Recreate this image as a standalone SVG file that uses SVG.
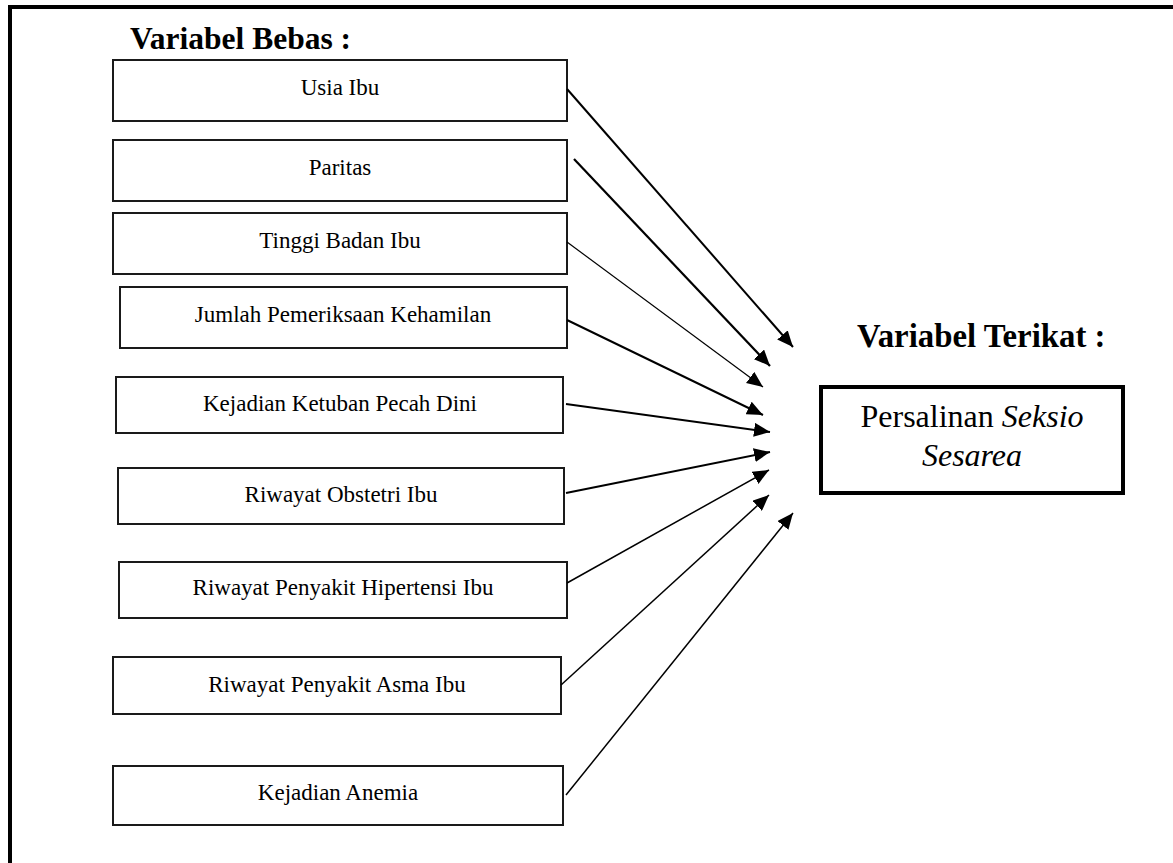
<svg xmlns="http://www.w3.org/2000/svg" width="1173" height="863" viewBox="0 0 1173 863">
<style>
.box{fill:#fff;stroke:#1a1a1a;stroke-width:2}
.lbl{font-family:"Liberation Serif","Times New Roman",serif;font-size:23px;fill:#000;text-anchor:middle}
.ttl{font-family:"Liberation Serif","Times New Roman",serif;font-weight:bold;fill:#000}
.big{font-family:"Liberation Serif","Times New Roman",serif;font-size:32px;fill:#000;text-anchor:middle}
.con{stroke:#000;fill:none;marker-end:url(#ah)}
</style>
<defs>
<marker id="ah" viewBox="0 0 16 14" refX="16" refY="7" markerWidth="16" markerHeight="14" markerUnits="userSpaceOnUse" orient="auto">
<path d="M0,0 L16,7 L0,14 z" fill="#000"/>
</marker>
</defs>
<rect x="0" y="0" width="1173" height="863" fill="#fff"/>
<rect x="10" y="7" width="1200" height="900" fill="none" stroke="#000" stroke-width="4"/>
<text class="ttl" x="130" y="49" font-size="31.5">Variabel Bebas :</text>
<text class="ttl" x="857" y="347" font-size="32.8">Variabel Terikat :</text>
<g id="n1"><rect class="box" x="113" y="60" width="454" height="61"/><text class="lbl" x="340" y="95">Usia Ibu</text></g>
<g id="n2"><rect class="box" x="113" y="140" width="454" height="61"/><text class="lbl" x="340" y="175">Paritas</text></g>
<g id="n3"><rect class="box" x="113" y="213" width="454" height="61"/><text class="lbl" x="340" y="248">Tinggi Badan Ibu</text></g>
<g id="n4"><rect class="box" x="120" y="287" width="447" height="61"/><text class="lbl" x="343" y="322">Jumlah Pemeriksaan Kehamilan</text></g>
<g id="n5"><rect class="box" x="116" y="377" width="447" height="56"/><text class="lbl" x="340" y="411">Kejadian Ketuban Pecah Dini</text></g>
<g id="n6"><rect class="box" x="118" y="468" width="446" height="56"/><text class="lbl" x="341" y="502">Riwayat Obstetri Ibu</text></g>
<g id="n7"><rect class="box" x="119" y="562" width="448" height="56"/><text class="lbl" x="343" y="595">Riwayat Penyakit Hipertensi Ibu</text></g>
<g id="n8"><rect class="box" x="113" y="657" width="448" height="57"/><text class="lbl" x="337" y="692">Riwayat Penyakit Asma Ibu</text></g>
<g id="n9"><rect class="box" x="113" y="766" width="450" height="59"/><text class="lbl" x="338" y="800">Kejadian Anemia</text></g>
<g id="target"><rect x="821" y="387" width="302" height="106" fill="#fff" stroke="#000" stroke-width="4"/>
<text class="big" x="972" y="427">Persalinan <tspan font-style="italic">Seksio</tspan></text>
<text class="big" x="972" y="466" font-style="italic">Sesarea</text></g>
<g id="connectors">
<line class="con" x1="567" y1="89" x2="793" y2="347" stroke-width="2"/>
<line class="con" x1="574" y1="159" x2="770" y2="366" stroke-width="2.2"/>
<line class="con" x1="567" y1="242" x2="763" y2="387" stroke-width="1.2"/>
<line class="con" x1="567" y1="320" x2="763" y2="415" stroke-width="2"/>
<line class="con" x1="566" y1="404" x2="770" y2="432" stroke-width="2"/>
<line class="con" x1="566" y1="493" x2="770" y2="452" stroke-width="2"/>
<line class="con" x1="567" y1="583" x2="769" y2="470" stroke-width="1.5"/>
<line class="con" x1="561" y1="685" x2="769" y2="495" stroke-width="1.5"/>
<line class="con" x1="566" y1="795" x2="793" y2="513" stroke-width="1.5"/>
</g>
</svg>
